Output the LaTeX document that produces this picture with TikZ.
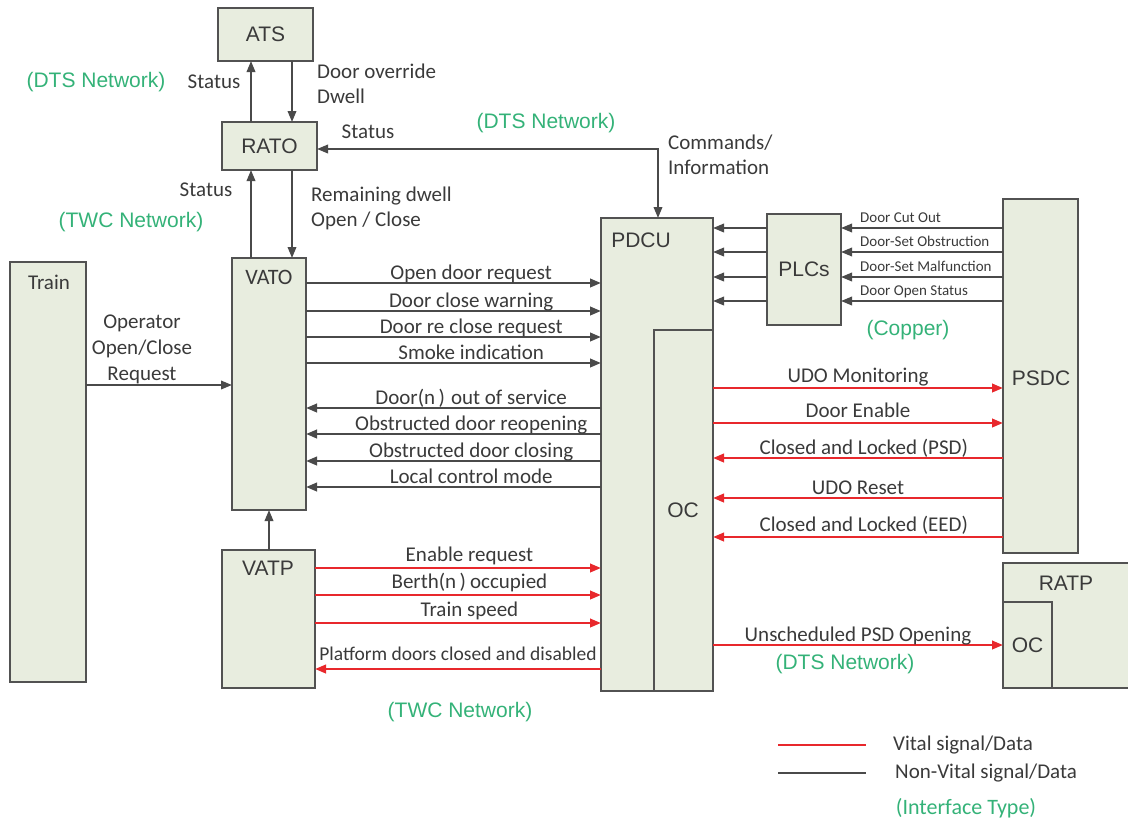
\documentclass[tikz,border=0pt]{standalone}
\usepackage{fontspec}
\setmainfont{Carlito}
\newfontfamily\arialf{Liberation Sans}
\usetikzlibrary{arrows.meta}
\definecolor{boxfill}{RGB}{232,237,223}
\definecolor{boxline}{RGB}{82,82,82}
\definecolor{sigdark}{RGB}{74,74,74}
\definecolor{sigred}{RGB}{232,40,44}
\definecolor{netgreen}{RGB}{52,178,120}
\definecolor{txt}{RGB}{58,58,58}
\begin{document}
\begin{tikzpicture}[x=1pt,y=-1pt,
  >={Triangle[length=11pt,width=8.5pt]},
  box/.style={draw=boxline, fill=boxfill, line width=1.6pt, anchor=north west,
              inner sep=0pt, outer sep=0pt},
  nv/.style={draw=sigdark, line width=2.3pt, ->},
  vit/.style={draw=sigred, line width=2.3pt, ->},
  lbl/.style={font=\fontsize{21}{25}\selectfont, text=txt, inner sep=0pt},
  sig/.style={lbl, anchor=base, yshift=4pt},
  ttl/.style={font=\arialf\fontsize{21}{25}\selectfont, text=txt, inner sep=0pt},
  net/.style={font=\arialf\fontsize{21}{25}\selectfont, text=netgreen, inner sep=0pt},
  small/.style={font=\fontsize{15}{17}\selectfont, text=txt, inner sep=0pt,
                anchor=base west, yshift=6pt},
]
\useasboundingbox (0,0) rectangle (1128,822);

% ---- blocks ----
\node[box, minimum width=95pt, minimum height=53pt] (ats) at (218,8) {};
\node[ttl] (atsT) at (ats.center) {ATS};
\node[box, minimum width=95pt, minimum height=48pt] (rato) at (222,122) {};
\node[ttl] (ratoT) at (rato.center) {RATO};
\node[box, minimum width=76pt, minimum height=420pt] (train) at (10,262) {};
\node[lbl] (trainT) at (49,282) {Train};
\node[box, minimum width=74pt, minimum height=252pt] (vato) at (232,258) {};
\node[lbl, font=\fontsize{22}{25}\selectfont] (vatoT) at (269,277) {VATO};
\node[box, minimum width=93pt, minimum height=138pt] (vatp) at (222,550) {};
\node[ttl] (vatpT) at (268,568) {VATP};
\node[box, minimum width=112pt, minimum height=473pt] (pdcu) at (601,218) {};
\node[ttl] (pdcuT) at (641,240) {PDCU};
\node[box, minimum width=59pt, minimum height=361pt] (oc) at (654,330) {};
\node[ttl] (ocT) at (683,510) {OC};
\node[box, minimum width=74pt, minimum height=111pt] (plcs) at (767,214) {};
\node[ttl] (plcsT) at (plcs.center) {PLCs};
\node[box, minimum width=75pt, minimum height=354pt] (psdc) at (1003,199) {};
\node[ttl] (psdcT) at (1041,378) {PSDC};
\node[box, minimum width=140pt, minimum height=125pt] (ratp) at (1003,563) {};
\node[ttl] (ratpT) at (1066,583) {RATP};
\node[box, minimum width=49pt, minimum height=86pt] (ratpoc) at (1003,602) {};
\node[ttl] (ratpocT) at (ratpoc.center) {OC};

% ---- ATS / RATO / VATO links ----
\draw[nv, line width=2pt] (rato.north -| 251,0) -- (ats.south -| 251,0);
\draw[nv, line width=2pt] (ats.south -| 292,0) -- (rato.north -| 292,0);
\draw[nv, line width=2pt] (vato.north -| 251,0) -- (rato.south -| 251,0);
\draw[nv, line width=2pt] (rato.south -| 292,0) -- (vato.north -| 292,0);
\draw[nv, line width=2pt] (vatp.north -| 269,0) -- (vato.south -| 269,0);
\draw[nv, line width=2pt, <->] (rato.east |- 0,149) -| (pdcu.north -| 658,0);

\node[lbl] (st1) at (214,82) {Status};
\node[net] (dts1) at (96,82) {(DTS Network)};
\node[lbl, align=left, anchor=west] (ovr) at (317,83.5) {Door override\\Dwell};
\node[lbl] (st2) at (368,132) {Status};
\node[net] (dts2) at (546,123) {(DTS Network)};
\node[lbl, align=left, anchor=west] (cmd) at (668,154.5) {Commands/\\Information};
\node[lbl] (st3) at (206,190) {Status};
\node[net] (twc1) at (131,222) {(TWC Network)};
\node[lbl, align=left, anchor=west] (rem) at (311,208.5) {Remaining dwell\\Open / Close};

% ---- Train to VATO ----
\draw[nv, line width=2pt] (train.east |- 0,385) -- (vato.west |- 0,385);
\node[lbl, align=center, font=\fontsize{21}{26}\selectfont] (oper) at (142,349)
  {Operator\\Open/Close\\Request};

% ---- VATO <-> PDCU (non-vital) ----
\foreach \yy/\txt [count=\i] in {283/Open door request, 311/Door close warning,
    337/{Door re\hspace{5pt}close request}, 363/Smoke indication}
  \draw[nv] (vato.east |- 0,\yy) -- node[sig, pos=0.56, name=vo\i] {\txt} (pdcu.west |- 0,\yy);
\foreach \yy/\txt [count=\i] in {408/{Door(n\,)\hspace{6pt}out of service},
    434/Obstructed door reopening, 461/Obstructed door closing, 487/Local control mode}
  \draw[nv] (pdcu.west |- 0,\yy) -- node[sig, pos=0.44, name=vi\i] {\txt} (vato.east |- 0,\yy);

% ---- VATP <-> PDCU (vital) ----
\foreach \yy/\txt [count=\i] in {568/Enable request, 595/{Berth(n\,)\hspace{4pt}occupied},
    623/Train speed}
  \draw[vit] (vatp.east |- 0,\yy) -- node[sig, yshift=3pt, pos=0.54, name=vp\i] {\txt} (pdcu.west |- 0,\yy);
\draw[vit] (pdcu.west |- 0,669) -- node[sig, yshift=5pt, pos=0.5, name=vp4,
  font=\fontsize{19.5}{23}\selectfont] {Platform doors closed and disabled} (vatp.east |- 0,669);
\node[net] (twc2) at (460,712) {(TWC Network)};

% ---- PSDC -> PLCs -> PDCU ----
\foreach \yy/\txt [count=\i] in {228/Door Cut Out, 252/Door-Set Obstruction,
    277/Door-Set Malfunction, 301/Door Open Status} {
  \draw[nv, line width=2pt] (psdc.west |- 0,\yy) -- (plcs.east |- 0,\yy);
  \node[small] (ds\i) at (860,\yy) {\txt};
  \draw[nv, line width=2pt] (plcs.west |- 0,\yy) -- (pdcu.east |- 0,\yy);
}
\node[net] (cop) at (908,330) {(Copper)};

% ---- OC <-> PSDC (vital) ----
\draw[vit] (oc.east |- 0,388) -- node[sig, yshift=2pt, pos=0.5, name=ps1] {UDO Monitoring} (psdc.west |- 0,388);
\draw[vit] (oc.east |- 0,423) -- node[sig, yshift=2pt, pos=0.5, name=ps2] {Door Enable} (psdc.west |- 0,423);
\draw[vit] (psdc.west |- 0,458) -- node[sig, pos=0.48, name=ps3] {Closed and Locked (PSD)} (oc.east |- 0,458);
\draw[vit] (psdc.west |- 0,498) -- node[sig, pos=0.5, name=ps4] {UDO Reset} (oc.east |- 0,498);
\draw[vit] (psdc.west |- 0,537) -- node[sig, yshift=2pt, pos=0.48, name=ps5] {Closed and Locked (EED)} (oc.east |- 0,537);

% ---- OC -> RATP OC ----
\draw[vit] (oc.east |- 0,645) -- node[sig, pos=0.5, name=un] {Unscheduled PSD Opening} (ratpoc.west |- 0,645);
\node[net] (dts3) at (845,664) {(DTS Network)};

% ---- legend ----
\coordinate (lgA1) at (778,745);
\coordinate (lgA2) at (866,745);
\coordinate (lgB1) at (778,773);
\coordinate (lgB2) at (866,773);
\draw[draw=sigred, line width=2.5pt] (lgA1) -- (lgA2);
\draw[draw=sigdark, line width=2.5pt] (lgB1) -- (lgB2);
\node[lbl, anchor=west] (lgA) at (893,745) {Vital signal/Data};
\node[lbl, anchor=west] (lgB) at (895,773) {Non-Vital signal/Data};
\node[lbl, text=netgreen, font=\fontsize{22}{25}\selectfont] (lgC) at (966,808) {(Interface Type)};
\end{tikzpicture}
\end{document}
